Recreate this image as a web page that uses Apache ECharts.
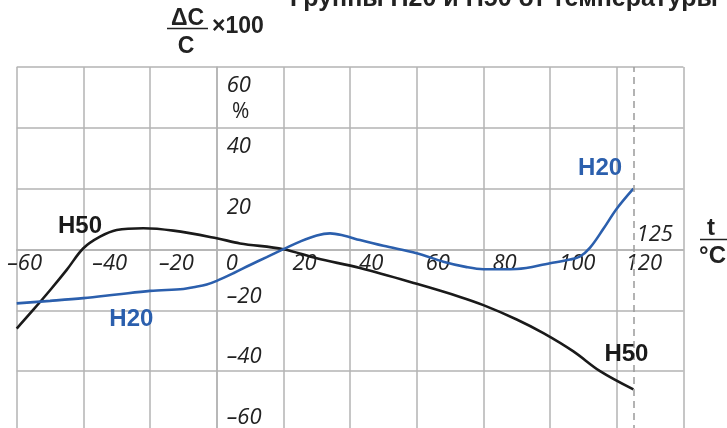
<!DOCTYPE html>
<html><head><meta charset="utf-8">
<script src="https://cdn.jsdelivr.net/npm/echarts@6/dist/echarts.min.js"></script>
<style>html,body{margin:0;padding:0;background:#fff}#c{width:727px;height:428px}</style>
</head><body><div id="c"></div>
<script>
// ---- data ----
const xTicks = [-60, -40, -20, 0, 20, 40, 60, 80, 100, 120, 140];
const yTicks = [-60, -40, -20, 0, 20, 40, 60];
const h50Temp = [-60, -55, -50, -45, -40, -35, -30, -22, -13, 0, 7, 20, 30, 43, 60, 73, 80, 90, 98, 107, 115, 125];
const h50Val  = [-26, -19.8, -13.4, -6.7, 0.4, 4.2, 6.4, 7.0, 6.2, 3.7, 2.0, 0.1, -2.9, -6.1, -11.3, -15.6, -18.3, -23, -27.5, -33.5, -40, -46];
const h20Temp = [-60, -50, -40, -30, -20, -10, -7, -3, 0, 5, 10, 15, 20, 25, 30, 34, 38, 43, 50, 60, 68, 75, 80, 90, 100, 106, 109, 112, 116, 120, 125];
const h20Val  = [-17.7, -16.9, -16.0, -14.8, -13.6, -13.0, -12.4, -11.5, -10.3, -7.8, -5.1, -2.5, 0.1, 2.6, 4.6, 5.3, 4.6, 3.1, 1.2, -1.2, -4.0, -5.8, -6.5, -6.4, -4.5, -3.3, -2.3, 0.6, 6.8, 13.4, 20];
const seriesNames = ['Н50', 'Н20'];
const markerTemp = 125;
const titleText = 'Группы Н20 и Н50 от температуры';

// ---- chart ----
const BLUE = '#2b5fad', BLACK = '#1a1a1a', GRID = '#b3b3b3';
const tickFont = {fontFamily: '"Liberation Sans Narrow", "Open Sans"', fontStyle: 'italic', fontWeight: 'normal', fontSize: 22, color: '#222'};
const boldFont = {fontFamily: 'Liberation Sans', fontWeight: 'bold', fontSize: 24};
const fmtNum = v => (v < 0 ? '\u2013' + Math.abs(v) : String(v));
const pairs = (t, v) => t.map((x, i) => [x, v[i]]);
const txtPoint = (coord, text, label) => ({coord, value: text, label: Object.assign({show: true, formatter: text}, label)});

const chart = echarts.init(document.getElementById('c'));
chart.setOption({
  animation: false,
  grid: {left: 16.7, top: 67, width: 666.7, height: 365, outerBoundsMode: 'none', containLabel: false},
  xAxis: {
    type: 'value', min: xTicks[0], max: xTicks[xTicks.length - 1], interval: xTicks[1] - xTicks[0],
    axisLine: {show: true, onZero: true, lineStyle: {color: GRID, width: 1.5}}, axisTick: {show: false},
    splitLine: {show: true, lineStyle: {color: GRID, width: 1.5}},
    axisLabel: Object.assign({}, tickFont, {
      margin: 3, align: 'left', padding: [0, 0, 0, 9], alignMinLabel: 'center',
      formatter: v => (v === xTicks[xTicks.length - 1] ? '' : (v === xTicks[0] ? '{m|' + fmtNum(v) + '}' : fmtNum(v))),
      rich: {m: Object.assign({}, tickFont, {padding: [0, 0, 0, 7]})}
    })
  },
  yAxis: {
    type: 'value', min: yTicks[0], max: yTicks[yTicks.length - 1], interval: yTicks[1] - yTicks[0],
    axisLine: {show: true, onZero: true, lineStyle: {color: GRID, width: 1.5}}, axisTick: {show: false},
    splitLine: {show: true, lineStyle: {color: GRID, width: 1.5}},
    axisLabel: {
      inside: true, margin: 10,
      formatter: v => (v === 0 ? '' : (v > 0 ? '{p|' + v + '}' : '{n|' + fmtNum(v) + '}')),
      rich: {
        p: Object.assign({}, tickFont, {padding: [38, 0, 0, 0]}),
        n: Object.assign({}, tickFont, {padding: [0, 0, 28, 0]})
      }
    }
  },
  series: [
    {
      name: seriesNames[0], type: 'line', data: pairs(h50Temp, h50Val), smooth: 0.35,
      showSymbol: false, lineStyle: {color: BLACK, width: 2.6}, itemStyle: {color: BLACK},
      markLine: {
        silent: true, symbol: ['none', 'none'], label: {show: false},
        lineStyle: {color: '#9a9a9a', type: [7, 5], width: 1.5}, data: [{xAxis: markerTemp}]
      },
      markPoint: {
        symbol: 'circle', symbolSize: 1, itemStyle: {color: 'rgba(0,0,0,0)'}, silent: true,
        data: [
          txtPoint([-41, 7.6], seriesNames[0], Object.assign({position: 'inside', color: BLACK}, boldFont)),
          txtPoint([122.9, -34.4], seriesNames[0], Object.assign({position: 'inside', color: BLACK}, boldFont)),
          txtPoint([125.8, 4.8], String(markerTemp), Object.assign({position: 'right', distance: 0}, tickFont)),
          txtPoint([7.2, 45.2], '%', {position: 'inside', fontFamily: 'Open Sans', fontWeight: 400, fontSize: 21, color: '#222'})
        ]
      }
    },
    {
      name: seriesNames[1], type: 'line', data: pairs(h20Temp, h20Val), smooth: 0.35,
      showSymbol: false, lineStyle: {color: BLUE, width: 2.6}, itemStyle: {color: BLUE},
      markPoint: {
        symbol: 'circle', symbolSize: 1, itemStyle: {color: 'rgba(0,0,0,0)'}, silent: true,
        data: [
          txtPoint([-25.6, -23], seriesNames[1], Object.assign({position: 'inside', color: BLUE}, boldFont)),
          txtPoint([115, 26.6], seriesNames[1], Object.assign({position: 'inside', color: BLUE}, boldFont))
        ]
      }
    }
  ],
  graphic: [
    {type: 'text', left: 290, top: -13, style: {text: titleText, font: 'bold 25px "Liberation Sans"', fill: '#222'}},
    {type: 'text', style: {x: 187.5, y: 19, text: '\u0394C', font: 'bold 23px "Liberation Sans"', fill: '#222', align: 'center', verticalAlign: 'middle'}},
    {type: 'line', shape: {x1: 167, y1: 28.5, x2: 208, y2: 28.5}, style: {stroke: '#222', lineWidth: 1.5}},
    {type: 'text', style: {x: 186, y: 46.5, text: 'C', font: 'bold 23px "Liberation Sans"', fill: '#222', align: 'center', verticalAlign: 'middle'}},
    {type: 'text', style: {x: 212, y: 27, text: '\u00d7100', font: 'bold 23px "Liberation Sans"', fill: '#222', align: 'left', verticalAlign: 'middle'}},
    {type: 'text', style: {x: 711, y: 228.5, text: 't', font: 'bold 24px "Liberation Sans"', fill: '#222', align: 'center', verticalAlign: 'middle'}},
    {type: 'line', shape: {x1: 700, y1: 239.5, x2: 727, y2: 239.5}, style: {stroke: '#222', lineWidth: 1.5}},
    {type: 'text', style: {x: 712.5, y: 256, text: '\u00b0C', font: 'bold 24px "Liberation Sans"', fill: '#222', align: 'center', verticalAlign: 'middle'}}
  ]
});

// Move the axes so they cross at the origin, using the chart's own scales.
const x0 = chart.convertToPixel({xAxisIndex: 0}, 0);
const xLeft = chart.convertToPixel({xAxisIndex: 0}, xTicks[0]);
const y0 = chart.convertToPixel({yAxisIndex: 0}, 0);
const yBottom = chart.convertToPixel({yAxisIndex: 0}, yTicks[0]);
chart.setOption({
  xAxis: {axisLine: {onZero: false}, offset: y0 - yBottom},
  yAxis: {axisLine: {onZero: false}, offset: xLeft - x0}
});
</script></body></html>
